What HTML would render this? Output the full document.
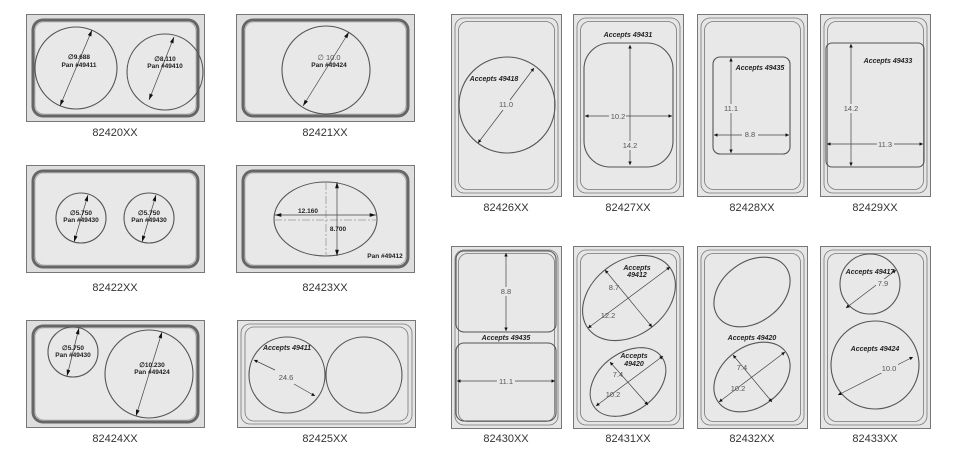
<!DOCTYPE html>
<html><head><meta charset="utf-8"><style>
body{margin:0;background:#fff;width:960px;height:459px;overflow:hidden}
svg{display:block}
.lbl{font-family:"Liberation Sans",sans-serif;font-size:11px;fill:#333;text-anchor:middle}
.b{font-family:"Liberation Sans",sans-serif;font-size:6.5px;font-weight:bold;fill:#222;text-anchor:middle}
.bi{font-family:"Liberation Sans",sans-serif;font-size:7px;font-weight:bold;font-style:italic;fill:#222;text-anchor:middle}
.d{font-family:"Liberation Sans",sans-serif;font-size:7.5px;fill:#555;text-anchor:middle}
.s{fill:none;stroke:#555;stroke-width:1.1}
.dl{stroke:#444;stroke-width:0.7;fill:none}
</style></head><body>
<svg width="960" height="459" viewBox="0 0 960 459">
<defs>
<marker id="a" viewBox="0 0 10 10" refX="10" refY="5" markerWidth="5" markerHeight="5" orient="auto-start-reverse"><path d="M0,0L10,5L0,10z" fill="#111"/></marker>
<marker id="A" viewBox="0 0 10 10" refX="10" refY="5" markerWidth="9" markerHeight="9" orient="auto-start-reverse"><path d="M0,2L10,5L0,8z" fill="#111"/></marker>
<g id="L">
<rect x="0.5" y="0.5" width="178" height="107" fill="#dedede" stroke="#777"/>
<rect x="7" y="6" width="165" height="96" rx="10" fill="#e8e8e8" stroke="#666" stroke-width="3"/>
<rect x="9" y="8" width="161" height="92" rx="9" fill="none" stroke="#999" stroke-width="0.6"/>
</g>
<g id="L2">
<rect x="0.5" y="0.5" width="178" height="107" fill="#e6e6e6" stroke="#777"/>
<rect x="4" y="4" width="171" height="100" rx="9" fill="none" stroke="#777" stroke-width="0.8"/>
<rect x="8" y="7" width="163" height="94" rx="9" fill="#e8e8e8" stroke="#777" stroke-width="0.8"/>
</g>
<g id="R">
<rect x="0.5" y="0.5" width="110" height="182" fill="#e6e6e6" stroke="#777"/>
<rect x="4" y="4" width="103" height="175" rx="9" fill="none" stroke="#777" stroke-width="0.8"/>
<rect x="7.5" y="7.5" width="96" height="168" rx="9" fill="#e8e8e8" stroke="#777" stroke-width="0.8"/>
</g>
</defs>

<use href="#L" x="26" y="14"/>
<circle class="s" cx="76" cy="68" r="41"/>
<line class="dl" x1="60" y1="106" x2="92" y2="30" marker-start="url(#A)" marker-end="url(#A)"/>
<text class="b" x="79" y="59">∅9.688</text><text class="b" x="79" y="67">Pan #49411</text>
<circle class="s" cx="165" cy="72" r="38"/>
<line class="dl" x1="149" y1="100" x2="174" y2="37" marker-start="url(#A)" marker-end="url(#A)"/>
<text class="b" x="165" y="61">∅8.110</text><text class="b" x="165" y="68">Pan #49410</text>
<text class="lbl" x="115" y="136">82420XX</text>

<use href="#L" x="236" y="14"/>
<circle class="s" cx="326" cy="70" r="44"/>
<line class="dl" x1="303" y1="106" x2="349" y2="32" marker-start="url(#A)" marker-end="url(#A)"/>
<text class="d" x="329" y="60">∅ 10.0</text><text class="b" x="329" y="67">Pan #49424</text>
<text class="lbl" x="325" y="136">82421XX</text>

<use href="#L" x="26" y="165"/>
<circle class="s" cx="81" cy="218" r="25"/>
<line class="dl" x1="74" y1="242" x2="88" y2="195" marker-start="url(#A)" marker-end="url(#A)"/>
<text class="b" x="81" y="215">∅5.750</text><text class="b" x="81" y="222">Pan #49430</text>
<circle class="s" cx="149" cy="218" r="25"/>
<line class="dl" x1="142" y1="242" x2="156" y2="195" marker-start="url(#A)" marker-end="url(#A)"/>
<text class="b" x="149" y="215">∅5.750</text><text class="b" x="149" y="222">Pan #49430</text>
<text class="lbl" x="115" y="291">82422XX</text>

<use href="#L" x="236" y="165"/>
<ellipse class="s" cx="325.5" cy="219" rx="51.5" ry="37"/>
<line x1="274" y1="220" x2="377" y2="220" stroke="#999" stroke-dasharray="8,2,2,2" stroke-width="0.8"/>
<line x1="326" y1="182" x2="326" y2="256" stroke="#999" stroke-dasharray="8,2,2,2" stroke-width="0.8"/>
<line class="dl" x1="275" y1="215" x2="376" y2="215" marker-start="url(#A)" marker-end="url(#A)"/>
<line class="dl" x1="337" y1="182" x2="337" y2="256" marker-start="url(#A)" marker-end="url(#A)"/>
<text class="b" x="308" y="213">12.160</text>
<text class="b" x="338" y="231">8.700</text>
<text class="b" x="385" y="258">Pan #49412</text>
<text class="lbl" x="325" y="291">82423XX</text>

<use href="#L" x="26" y="320"/>
<circle class="s" cx="73" cy="352" r="25"/>
<line class="dl" x1="67" y1="376" x2="79" y2="328" marker-start="url(#A)" marker-end="url(#A)"/>
<text class="b" x="73" y="350">∅5.750</text><text class="b" x="73" y="357">Pan #49430</text>
<circle class="s" cx="149" cy="374" r="44"/>
<line class="dl" x1="136" y1="416" x2="162" y2="332" marker-start="url(#A)" marker-end="url(#A)"/>
<text class="b" x="152" y="367">∅10.230</text><text class="b" x="152" y="374">Pan #49424</text>
<text class="lbl" x="115" y="442">82424XX</text>

<use href="#L2" x="237" y="320"/>
<circle class="s" cx="287" cy="375" r="38"/>
<circle class="s" cx="364" cy="375" r="38"/>
<line class="dl" x1="254" y1="360" x2="275" y2="370" marker-start="url(#a)"/>
<line class="dl" x1="294" y1="384" x2="315" y2="396" marker-end="url(#a)"/>
<text class="bi" x="287" y="350">Accepts 49411</text>
<text class="d" x="286" y="380">24.6</text>
<text class="lbl" x="325" y="442">82425XX</text>

<use href="#R" x="451" y="14"/>
<circle class="s" cx="507" cy="105" r="48"/>
<line class="dl" x1="478" y1="143" x2="503" y2="110" marker-start="url(#a)"/>
<line class="dl" x1="510" y1="100" x2="534" y2="68" marker-end="url(#a)"/>
<text class="bi" x="494" y="81">Accepts 49418</text>
<text class="d" x="506" y="107">11.0</text>
<text class="lbl" x="506" y="211">82426XX</text>

<use href="#R" x="573" y="14"/>
<rect class="s" x="584" y="43" width="89" height="124" rx="26"/>
<line class="dl" x1="630" y1="45" x2="630" y2="165" marker-start="url(#a)" marker-end="url(#a)"/>
<line class="dl" x1="585" y1="116" x2="672" y2="116" marker-start="url(#a)" marker-end="url(#a)"/>
<rect x="609" y="111" width="17" height="9" fill="#e8e8e8"/>
<text class="bi" x="628" y="37">Accepts 49431</text>
<text class="d" x="618" y="119">10.2</text>
<rect x="622" y="141" width="17" height="9" fill="#e8e8e8"/>
<text class="d" x="630" y="148">14.2</text>
<text class="lbl" x="628" y="211">82427XX</text>

<use href="#R" x="697" y="14"/>
<rect class="s" x="713" y="57" width="77" height="97" rx="7"/>
<line class="dl" x1="731" y1="58" x2="731" y2="153" marker-start="url(#a)" marker-end="url(#a)"/>
<line class="dl" x1="714" y1="135" x2="789" y2="135" marker-start="url(#a)" marker-end="url(#a)"/>
<rect x="723" y="104" width="16" height="9" fill="#e8e8e8"/>
<text class="d" x="731" y="111">11.1</text>
<rect x="742" y="130" width="16" height="9" fill="#e8e8e8"/>
<text class="d" x="750" y="137">8.8</text>
<text class="bi" x="760" y="70">Accepts 49435</text>
<text class="lbl" x="752" y="211">82428XX</text>

<use href="#R" x="820" y="14"/>
<rect class="s" x="826" y="43" width="98" height="124" rx="6"/>
<line class="dl" x1="851" y1="44" x2="851" y2="166" marker-start="url(#a)" marker-end="url(#a)"/>
<line class="dl" x1="827" y1="144" x2="923" y2="144" marker-start="url(#a)" marker-end="url(#a)"/>
<rect x="843" y="104" width="17" height="9" fill="#e8e8e8"/>
<text class="d" x="851" y="111">14.2</text>
<rect x="877" y="139" width="17" height="9" fill="#e8e8e8"/>
<text class="d" x="885" y="147">11.3</text>
<text class="bi" x="888" y="63">Accepts 49433</text>
<text class="lbl" x="875" y="211">82429XX</text>

<use href="#R" x="451" y="246"/>
<rect class="s" x="456" y="251" width="100" height="81" rx="8"/>
<rect class="s" x="456" y="343" width="100" height="78" rx="8"/>
<line class="dl" x1="506" y1="253" x2="506" y2="331" marker-start="url(#a)" marker-end="url(#a)"/>
<rect x="498" y="287" width="16" height="9" fill="#e8e8e8"/>
<text class="d" x="506" y="294">8.8</text>
<text class="bi" x="506" y="340">Accepts 49435</text>
<line class="dl" x1="457" y1="381" x2="555" y2="381" marker-start="url(#a)" marker-end="url(#a)"/>
<rect x="497" y="377" width="18" height="9" fill="#e8e8e8"/>
<text class="d" x="506" y="384">11.1</text>
<text class="lbl" x="506" y="442">82430XX</text>

<use href="#R" x="573" y="246"/>
<ellipse class="s" cx="629" cy="298" rx="51" ry="37" transform="rotate(-37 629 298)"/>
<line class="dl" x1="588" y1="328" x2="670" y2="267" marker-start="url(#a)" marker-end="url(#a)"/>
<line class="dl" x1="605" y1="270" x2="652" y2="327" marker-start="url(#a)" marker-end="url(#a)"/>
<text class="bi" x="637" y="270">Accepts</text><text class="bi" x="637" y="277">49412</text>
<text class="d" x="614" y="290">8.7</text>
<text class="d" x="608" y="318">12.2</text>
<ellipse class="s" cx="628" cy="382" rx="42" ry="29" transform="rotate(-37 628 382)"/>
<line class="dl" x1="596" y1="406" x2="663" y2="356" marker-start="url(#a)" marker-end="url(#a)"/>
<line class="dl" x1="610" y1="362" x2="648" y2="405" marker-start="url(#a)" marker-end="url(#a)"/>
<text class="bi" x="634" y="358">Accepts</text><text class="bi" x="634" y="366">49420</text>
<text class="d" x="618" y="377">7.4</text>
<text class="d" x="613" y="397">10.2</text>
<text class="lbl" x="628" y="442">82431XX</text>

<use href="#R" x="697" y="246"/>
<ellipse class="s" cx="752" cy="292" rx="42" ry="30" transform="rotate(-37 752 292)"/>
<ellipse class="s" cx="752" cy="377" rx="42" ry="30" transform="rotate(-37 752 377)"/>
<line class="dl" x1="719" y1="402" x2="785" y2="352" marker-start="url(#a)" marker-end="url(#a)"/>
<line class="dl" x1="733" y1="355" x2="772" y2="402" marker-start="url(#a)" marker-end="url(#a)"/>
<text class="bi" x="752" y="340">Accepts 49420</text>
<text class="d" x="742" y="370">7.4</text>
<text class="d" x="738" y="391">10.2</text>
<text class="lbl" x="752" y="442">82432XX</text>

<use href="#R" x="820" y="246"/>
<circle class="s" cx="870" cy="284" r="30"/>
<line class="dl" x1="846" y1="308" x2="896" y2="270" marker-start="url(#a)" marker-end="url(#a)"/>
<rect x="876" y="279" width="14" height="8" fill="#e8e8e8"/>
<text class="bi" x="870" y="274">Accepts 49417</text>
<text class="d" x="883" y="286">7.9</text>
<circle class="s" cx="875" cy="365" r="44"/>
<line class="dl" x1="838" y1="395" x2="913" y2="357" marker-start="url(#a)" marker-end="url(#a)"/>
<rect x="880" y="364" width="18" height="9" fill="#e8e8e8"/>
<text class="bi" x="875" y="351">Accepts 49424</text>
<text class="d" x="889" y="371">10.0</text>
<text class="lbl" x="875" y="442">82433XX</text>
</svg>
</body></html>
